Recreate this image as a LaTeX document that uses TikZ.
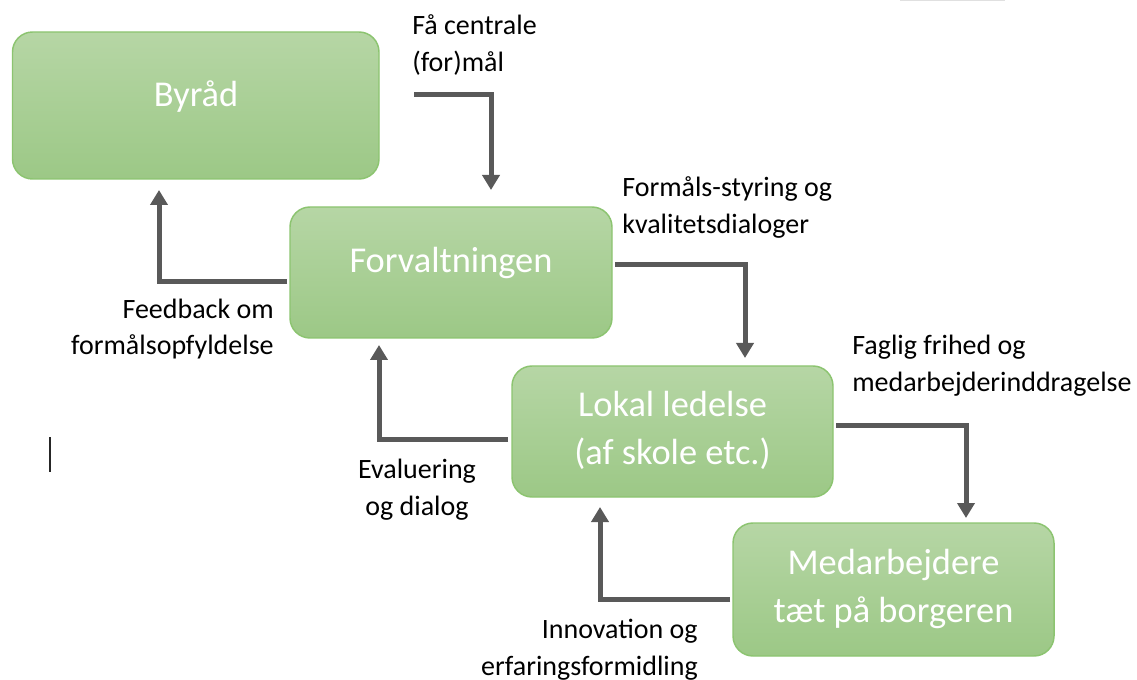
\documentclass[tikz,border=0pt]{standalone}
\usepackage{fontspec}
\setmainfont{Carlito}
\usetikzlibrary{arrows.meta}
\definecolor{boxtop}{RGB}{182,214,165}
\definecolor{boxbot}{RGB}{156,200,134}
\definecolor{boxline}{RGB}{140,196,112}
\definecolor{arrowgray}{RGB}{89,89,89}
\def\px{0.75pt}
\tikzset{
  box/.style={rounded corners=15pt, draw=boxline, line width=1.1pt, top color=boxtop, bottom color=boxbot, inner sep=0pt},
  boxtext/.style={text=white, font=\fontsize{27.3}{36}\selectfont, inner sep=0pt, anchor=base, align=center},
  lbl/.style={text=black, font=\fontsize{21}{27.75}\selectfont, inner sep=0pt},
  flow/.style={draw=arrowgray, line width=3.75pt, -{Triangle[width=12.75pt,length=11.25pt]}},
}
\begin{document}
\begin{tikzpicture}[x=0.75pt,y=-0.75pt]
\useasboundingbox (0,0) rectangle (1137,680);
% boxes
\node[box, minimum width=366.5*\px, minimum height=147*\px] (byrad) at (195.75,105.5) {};
\node[box, minimum width=322*\px, minimum height=131*\px] (forv) at (451,272.5) {};
\node[box, minimum width=321*\px, minimum height=131*\px] (lokal) at (672.5,431.5) {};
\node[box, minimum width=321*\px, minimum height=133*\px] (medarb) at (893.5,589.5) {};
% box texts (anchor = baseline of last line)
\node[boxtext] (byradt) at (196,107) {Byråd};
\node[boxtext] (forvt) at (451,273) {Forvaltningen};
\node[boxtext] (lokalt) at (672.5,464) {Lokal ledelse\\(af skole etc.)};
\node[boxtext] (medarbt) at (893.5,622) {Medarbejdere\\tæt på borgeren};
% connector end points
\coordinate (a1s) at (414,95);
\coordinate (a1e) at (491,190);
\coordinate (a2s) at (287,282);
\coordinate (a2e) at (159,190);
\coordinate (a3s) at (615,265);
\coordinate (a3e) at (745,358);
\coordinate (a4s) at (508,439);
\coordinate (a4e) at (379,345);
\coordinate (a5s) at (836,425);
\coordinate (a5e) at (966,518);
\coordinate (a6s) at (730,599);
\coordinate (a6e) at (600,507);
% connectors
\draw[flow] (a1s) -| (a1e);
\draw[flow] (a2s) -| (a2e);
\draw[flow] (a3s) -| (a3e);
\draw[flow] (a4s) -| (a4e);
\draw[flow] (a5s) -| (a5e);
\draw[flow] (a6s) -| (a6e);
% labels (anchor = baseline of last line)
\node[lbl, anchor=base west, align=left] (l1) at (412,72) {Få centrale\\(for)mål};
\node[lbl, anchor=base east, align=right] (l2) at (274,355) {Feedback om\\formålsopfyldelse};
\node[lbl, anchor=base west, align=left] (l3) at (622,234) {Formåls-styring og\\kvalitetsdialoger};
\node[lbl, anchor=base, align=center] (l4) at (417,515) {Evaluering\\og dialog};
\node[lbl, anchor=base west, align=left] (l5) at (852,392) {Faglig frihed og\\medarbejderinddragelse};
\node[lbl, anchor=base east, align=right] (l6) at (698,675) {Innovation og\\erfaringsformidling};
% text cursor mark
\draw[line width=0.8pt, black!85] (50,437) -- (50,472);
% faint edge at top
\draw[line width=1pt, black!12] (900,0.5) -- (1005,0.5);
\end{tikzpicture}
\end{document}
